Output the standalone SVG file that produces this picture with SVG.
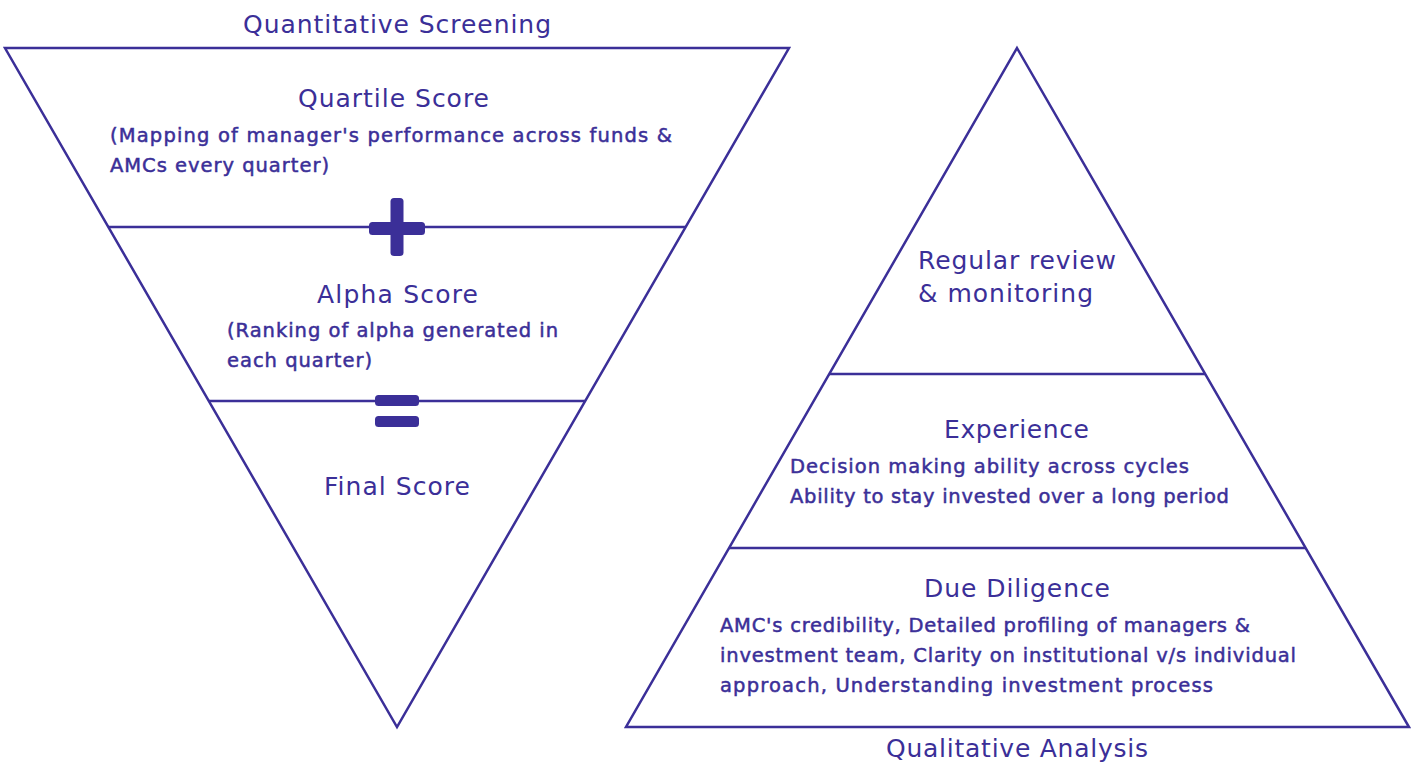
<svg xmlns="http://www.w3.org/2000/svg" width="1415" height="767" viewBox="0 0 1415 767">
<style>
.ln{fill:none;stroke:#3b2f98;stroke-width:2.5;stroke-linejoin:miter}
.sym{fill:#3b2f98}
text{font-family:"DejaVu Sans","Noto Sans","Liberation Sans",sans-serif;fill:#3b2f98}
.h{font-size:25px;font-weight:400}
.b{font-size:19.5px;font-weight:400;stroke:#3b2f98;stroke-width:0.5px}
</style>
<rect width="1415" height="767" fill="#fff"/>
<g id="connectors">
<polygon class="ln" points="5,48 789,48 397,727"/>
<line class="ln" x1="108" y1="227" x2="686" y2="227"/>
<line class="ln" x1="209" y1="401" x2="585" y2="401"/>
<polygon class="ln" points="1017,48 1409,727 626,727"/>
<line class="ln" x1="829" y1="374" x2="1205" y2="374"/>
<line class="ln" x1="729" y1="548" x2="1306" y2="548"/>
</g>
<g id="title-left"><text class="h" x="243" y="33" textLength="308">Quantitative Screening</text></g>
<g id="quartile">
<text class="h" x="298" y="107" textLength="191">Quartile Score</text>
<text class="b" x="110" y="142" textLength="562">(Mapping of manager's performance across funds &amp;</text>
<text class="b" x="110" y="172" textLength="219">AMCs every quarter)</text>
</g>
<g id="plus">
<rect class="sym" x="390.5" y="198" width="13" height="58" rx="3.5"/>
<rect class="sym" x="369" y="222" width="56" height="13" rx="3.5"/>
</g>
<g id="alpha">
<text class="h" x="317" y="303" textLength="161">Alpha Score</text>
<text class="b" x="227" y="337" textLength="331">(Ranking of alpha generated in</text>
<text class="b" x="227" y="367" textLength="145">each quarter)</text>
</g>
<g id="equals">
<rect class="sym" x="375" y="395" width="44" height="11" rx="3.5"/>
<rect class="sym" x="375" y="416" width="44" height="11" rx="3.5"/>
</g>
<g id="final"><text class="h" x="324" y="495" textLength="146">Final Score</text></g>
<g id="review">
<text class="h" x="918" y="269" textLength="198">Regular review</text>
<text class="h" x="918" y="302" textLength="175">&amp; monitoring</text>
</g>
<g id="experience">
<text class="h" x="944" y="438" textLength="145">Experience</text>
<text class="b" x="790" y="473" textLength="399">Decision making ability across cycles</text>
<text class="b" x="790" y="503" textLength="439">Ability to stay invested over a long period</text>
</g>
<g id="diligence">
<text class="h" x="924" y="597" textLength="186">Due Diligence</text>
<text class="b" x="720" y="632" textLength="530">AMC's credibility, Detailed profiling of managers &amp;</text>
<text class="b" x="720" y="662" textLength="576">investment team, Clarity on institutional v/s individual</text>
<text class="b" x="720" y="692" textLength="493">approach, Understanding investment process</text>
</g>
<g id="title-right"><text class="h" x="886" y="757" textLength="262">Qualitative Analysis</text></g>
</svg>
